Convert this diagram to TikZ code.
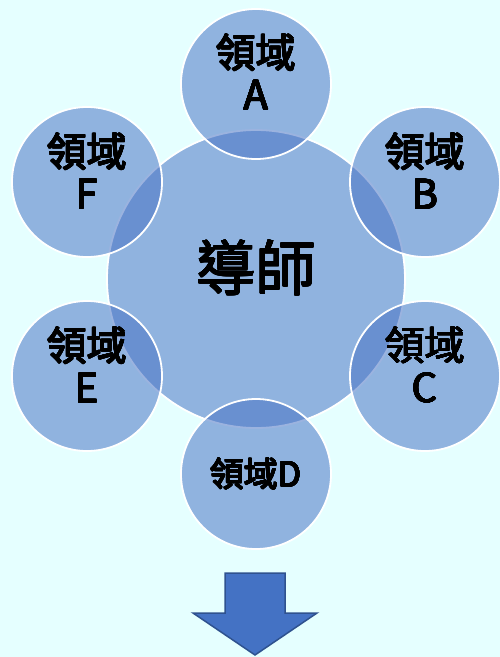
\documentclass[tikz,border=0pt]{standalone}
\usepackage{fontspec}
\usepackage[copies]{contour}
\contourlength{0.45pt}
\contournumber{16}
\setmainfont{Noto Sans CJK TC}
\definecolor{bgc}{HTML}{E5FFFF}
\definecolor{circ}{HTML}{4873C5}
\definecolor{arrfill}{HTML}{4472C4}
\definecolor{arrline}{HTML}{2F528F}
\newcommand{\thk}[1]{\contour{black}{#1}}
\tikzset{
  bubble/.style={circle, minimum size=150pt, inner sep=0pt, fill=circ, fill opacity=0.54, draw=white, line width=1.8pt, text opacity=1},
  hub/.style={circle, minimum size=298pt, inner sep=0pt, fill=circ, fill opacity=0.54, draw=white, line width=1.8pt},
  lbl/.style={align=center, font=\fontsize{40}{42}\selectfont, text=black, inner sep=0pt},
}
\begin{document}
\begin{tikzpicture}[x=1pt,y=-1pt]
\fill[bgc] (0,0) rectangle (500,657);
\useasboundingbox (0,0) rectangle (500,657);
\node[hub] (hub) at (256,279) {};
\node[bubble] (a) at (256,84) {};
\node[bubble] (b) at (425,182) {};
\node[bubble] (c) at (425,376) {};
\node[bubble] (d) at (256,474) {};
\node[bubble] (e) at (87,376) {};
\node[bubble] (f) at (87,182) {};
\node[font=\fontsize{60}{60}\selectfont, inner sep=0pt] (hubt) at (256,268) {\thk{導師}};
\node[lbl] (at) at (256,72) {\thk{領域}\\\thk{A}};
\node[lbl] (bt) at (425,171) {\thk{領域}\\\thk{B}};
\node[lbl] (ct) at (425,365) {\thk{領域}\\\thk{C}};
\node[lbl] (et) at (87,365) {\thk{領域}\\\thk{E}};
\node[lbl] (ft) at (87,171) {\thk{領域}\\\thk{F}};
\node[font=\fontsize{34}{34}\selectfont, inner sep=0pt] (dt) at (256,474) {\thk{領域D}};
\filldraw[fill=arrfill, draw=arrline, line width=1.5pt, line join=miter]
  (225,573) -- (285,573) -- (285,613) -- (317,613) -- (255,655) -- (193,613) -- (225,613) -- cycle;
\end{tikzpicture}
\end{document}
